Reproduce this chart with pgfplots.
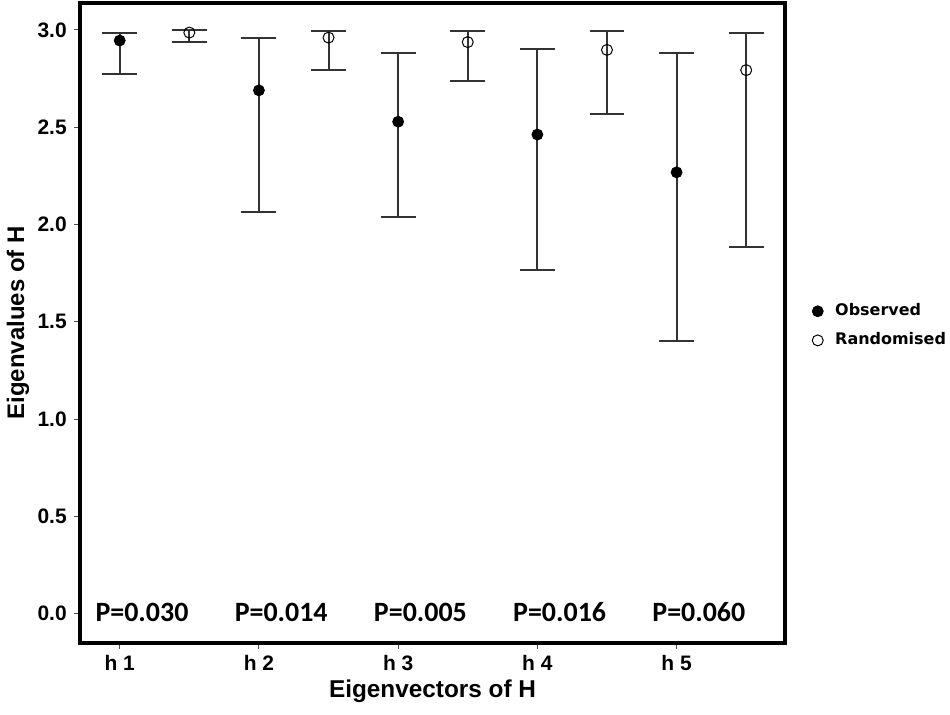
\documentclass[border=0pt]{standalone}
\usepackage{pgfplots}
\pgfplotsset{compat=1.18}
\usepackage{pgfplotstable}
\usepackage{fontspec}
\setmainfont{Liberation Sans}
\newfontfamily\calfont{Carlito}
\newfontfamily\legfont{DejaVu Sans}
\pgfplotstableread{
x y ep em
1 2.945 0.041 0.171
2 2.689 0.268 0.624
3 2.528 0.352 0.491
4 2.462 0.437 0.696
5 2.268 0.612 0.868
}\observed
\pgfplotstableread{
x y ep em
1.5 2.986 0.011 0.048
2.5 2.960 0.033 0.167
3.5 2.937 0.055 0.202
4.5 2.897 0.095 0.329
5.5 2.793 0.192 0.909
}\randomised
\begin{document}
\begin{tikzpicture}
\begin{axis}[
  name=ax,
  scale only axis,
  width=353.5pt, height=320.5pt,
  xmin=0.713, xmax=5.781,
  ymin=-0.149, ymax=3.138,
  axis line style={line width=2pt},
  xtick={1,2,3,4,5},
  xticklabels={h 1,h 2,h 3,h 4,h 5},
  ytick={0,0.5,1,1.5,2,2.5,3},
  xtick pos=bottom, ytick pos=left,
  tick align=outside,
  major tick length=3pt,
  tick style={line width=0.5pt, black!70},
  yticklabel style={/pgf/number format/fixed, /pgf/number format/fixed zerofill, /pgf/number format/precision=1, /pgf/number format/assume math mode=true, font=\fontsize{10.5}{12}\selectfont\bfseries},
  xticklabel style={font=\fontsize{10.5}{12}\selectfont\bfseries, anchor=base, yshift=-11pt},
  xlabel={Eigenvectors of H},
  ylabel={Eigenvalues of H},
  every axis x label/.style={at={(axis description cs:0.5,-0.0858)}, anchor=base, font=\fontsize{12.2}{14}\selectfont\bfseries},
  every axis y label/.style={at={(axis description cs:-0.0877,0.5)}, rotate=90, anchor=center, font=\fontsize{12}{14}\selectfont\bfseries},
  legend style={at={(1,0.5)}, anchor=west, xshift=13.5pt, yshift=-1.5pt, draw=none, fill=none,
    inner sep=0pt, outer sep=0pt, nodes={inner sep=0.5pt},
    font=\legfont\fontsize{8}{10}\selectfont\bfseries, row sep=6pt,
    /tikz/every odd column/.append style={column sep=5.5pt}},
  legend cell align=left,
  legend image code/.code={\draw[#1] plot coordinates {(0pt,0pt)};},
  clip=false,
]
\addplot[only marks, mark=*, mark size=2.75pt, black,
  error bars/.cd, y dir=both, y explicit,
  error mark=-, error bar style={line width=1pt, black!80},
  error mark options={line width=1pt, black!80, mark size=8.75pt, rotate=90}]
  table[x=x, y=y, y error plus=ep, y error minus=em] {\observed};
\addlegendentry{Observed}
\addplot[only marks, mark=o, mark size=2.75pt, black, mark options={line width=0.5pt},
  error bars/.cd, y dir=both, y explicit,
  error mark=-, error bar style={line width=1pt, black!80},
  error mark options={line width=1pt, black!80, mark size=8.75pt, rotate=90}]
  table[x=x, y=y, y error plus=ep, y error minus=em] {\randomised};
\addlegendentry{Randomised}
\foreach \xx/\pp in {1/0.030, 2/0.014, 3/0.005, 4/0.016, 5/0.060}{
  \edef\tmp{\noexpand\node[font=\noexpand\calfont\noexpand\fontsize{14}{16}\noexpand\selectfont\noexpand\bfseries, inner sep=0pt, anchor=base] at (axis cs:\xx+0.16,-0.041) {P=\pp};}
  \tmp
}
\end{axis}
\path[use as bounding box] ([xshift=-39pt,yshift=1.5pt]ax.north west) rectangle ([xshift=82.5pt,yshift=-36pt]ax.south east);
\end{tikzpicture}
\end{document}
